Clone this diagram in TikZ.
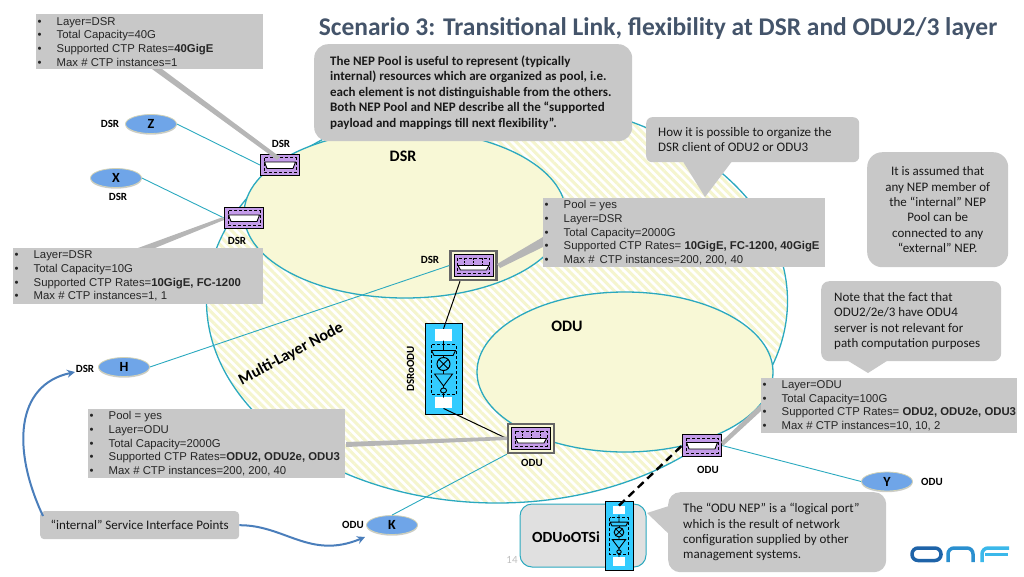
\documentclass[tikz,border=0pt]{standalone}
\usepackage{fontspec}
\setmainfont{Carlito}
\newfontfamily\arialfont{Liberation Sans}
\usetikzlibrary{shapes.geometric,patterns.meta,arrows.meta,shadows}

\definecolor{tealline}{HTML}{2BA9BF}
\definecolor{creamfill}{HTML}{F8F8D6}
\definecolor{stripefill}{HTML}{F5F5CE}
\definecolor{boxgray}{HTML}{C8C8C8}
\definecolor{wedgegray}{HTML}{B6B6B6}
\definecolor{nepviolet}{HTML}{C39BE9}
\definecolor{barcyan}{HTML}{33CCFF}
\definecolor{sipblue}{HTML}{6FA5E8}
\definecolor{arrowblue}{HTML}{4A7EBB}
\definecolor{titleslate}{HTML}{44546A}
\definecolor{onfdark}{HTML}{1E63A8}
\definecolor{onfmid}{HTML}{2A8FCF}
\definecolor{onflight}{HTML}{3BB8EA}

\tikzset{
    layerbig/.style={ellipse,inner sep=0,draw=tealline,line width=1.3pt,preaction={fill=white},
        pattern={Lines[angle=-45,distance=6pt,line width=3pt]},pattern color=stripefill},
    layerin/.style={ellipse,inner sep=0,draw=tealline,line width=1.3pt,fill=creamfill},
    sipnode/.style={ellipse,inner sep=0,minimum width=51pt,minimum height=19pt,fill=sipblue,draw=stripefill!70!gray,
        line width=.8pt,drop shadow={shadow xshift=0pt,shadow yshift=-1.2pt,opacity=.4},
        font=\fontsize{14}{16}\selectfont\bfseries},
    nepport/.style={rectangle,inner sep=0,minimum width=39pt,minimum height=21.5pt,fill=nepviolet,draw=black,line width=1pt},
    poolrim/.style={rectangle,inner sep=0,minimum width=46pt,minimum height=29pt,fill=creamfill,draw=black!60,line width=2.4pt},
    tinylabel/.style={inner sep=0,font=\fontsize{11}{13}\selectfont\bfseries},
    layerlabel/.style={inner sep=0,font=\fontsize{16}{18}\selectfont\bfseries},
    infobox/.style={rectangle,anchor=north west,inner xsep=1.5pt,inner ysep=0,fill=boxgray,align=flush left,
        font=\arialfont\fontsize{11.35}{13.7}\selectfont,text=black!85},
    note/.style={rectangle,rounded corners=11pt,anchor=north west,inner sep=0,fill=boxgray,align=flush left,
        font=\fontsize{13}{15.4}\selectfont,text=black!90},
    tealink/.style={draw=tealline,line width=.9pt},
    blacklink/.style={draw=black,line width=1pt},
    sipcurve/.style={draw=arrowblue,line width=2pt,-{Stealth[length=8pt,width=8pt]}},
    barnode/.style={rectangle,inner sep=0,fill=barcyan,draw=black,line width=1pt},
    clientsq/.style={rectangle,inner sep=0,fill=white},
}

\newcommand{\npline}[1]{\mbox{\makebox[19pt][l]{\textbullet}#1}}

% white connector inside a port
\newcommand{\nepglyph}[1]{
    \begin{scope}[shift={(#1)}]
        \draw[line width=1pt,dash pattern=on 3pt off 2pt] (-16,-7.5) rectangle (16,7.5);
        \draw[fill=white,line width=.9pt] (-15.5,-3) -- (15.5,-3) -- (13,3.5) -- (-13,3.5) -- cycle;
    \end{scope}
}
\newcommand{\poolglyph}[1]{
    \begin{scope}[shift={(#1)}]
        \draw[line width=1pt,dash pattern=on 3pt off 2pt] (-16,-7.5) rectangle (16,7.5);
        \draw[line width=.8pt,dash pattern=on 2pt off 1pt] (-9,-7.5) -- (-9,0) (0,-7.5) -- (0,0) (9,-7.5) -- (9,0);
        \draw[fill=white,line width=.9pt] (-15.5,0) -- (15.5,0) -- (13,4.5) -- (-13,4.5) -- cycle;
    \end{scope}
}
% adaptation stack inside a bar
\newcommand{\adaptglyph}[2]{
    \begin{scope}[shift={(#1)},scale=#2]
        \draw[line width=.9pt,dash pattern=on 3pt off 2pt] (-12.5,-24) rectangle (12.5,25.5);
        \draw[line width=.9pt] (0,-28) -- (0,-18) (-12,-18) -- (12,-18) -- (9.5,-13) -- (-9.5,-13) -- cycle;
        \draw[line width=.9pt] (0,-13) -- (0,-11);
        \draw[line width=1pt] (0,-4.5) circle (6.5);
        \draw[line width=.8pt] (-4.6,-9.1) -- (4.6,.1) (4.6,-9.1) -- (-4.6,.1);
        \draw[line width=.9pt] (0,2) -- (0,5.5) (-9,5.5) -- (9,5.5) -- (0,17.5) -- cycle;
        \draw[line width=.9pt] (0,22) ellipse (3 and 2.5) (0,24.5) -- (0,29) (0,17.5) -- (0,19.5);
    \end{scope}
}

\begin{document}
\begin{tikzpicture}[x=1pt,y=-1pt]
    \useasboundingbox (0,0) rectangle (1024,576);

    \node[layerbig,minimum width=581pt,minimum height=404pt] (mlnode) at (497,301) {};
    \node[layerin,minimum width=322pt,minimum height=168pt] (dsrlayer) at (405,214) {};
    \node[layerin,minimum width=296pt,minimum height=160pt] (odulayer) at (625,372) {};

    \node[inner sep=0,font=\fontsize{25.5}{28}\selectfont\bfseries,text=titleslate] (title) at (658,28.5) {Scenario 3: Transitional Link, flexibility at DSR and ODU2/3 layer};
    \node[layerlabel] (dsrname) at (403,156) {DSR};
    \node[layerlabel] (oduname) at (567,326) {ODU};
    \node[layerlabel,rotate=28] (mlname) at (291,354) {Multi-Layer Node};
    \node[inner sep=0,text=black!25,font=\fontsize{11}{13}\selectfont] (pagenum) at (512,560) {14};

    % outer endpoints
    \node[sipnode] (nepZ) at (151,124) {Z};
    \node[sipnode] (nepX) at (116,178) {X};
    \node[sipnode] (nepH) at (124,367) {H};
    \node[sipnode] (nepK) at (392,525) {K};
    \node[sipnode] (nepY) at (887,481.5) {Y};

    % ports
    \node[nepport] (portA) at (280,165) {};
    \node[nepport] (portB) at (244,218) {};
    \node[poolrim] (poolDSR) at (473.5,265.5) {};
    \node[poolrim] (poolODU) at (531,438.5) {};
    \node[nepport] (portE) at (702,445.5) {};
    \node[nepport] (poolDSRin) at (473.5,265.5) {};
    \node[nepport] (poolODUin) at (531,438.5) {};
    \nepglyph{portA}
    \nepglyph{portB}
    \nepglyph{portE}
    \poolglyph{poolDSRin}
    \poolglyph{poolODUin}

    \draw[tealink] (nepZ.east) -- (portA.west);
    \draw[tealink] (nepX.east) -- (portB.west);
    \draw[tealink] (nepH.east) -- (poolDSR.west);
    \draw[tealink] (nepK.north) -- (poolODU.south west);
    \draw[tealink] (nepY.west) -- (portE.east);

    % adaptation bars
    \node[barnode,minimum width=37pt,minimum height=91pt] (dsroodu) at (443.5,368.5) {};
    \node[clientsq,minimum width=17pt,minimum height=12pt] (dsrotop) at (443.5,335) {};
    \node[clientsq,minimum width=17pt,minimum height=11.5pt] (dsrobot) at (443.5,402.5) {};
    \adaptglyph{dsroodu}{1}
    \node[tinylabel,rotate=90] (dsrooduname) at (410.5,369) {DSRoODU};
    \draw[blacklink] ([xshift=-13.5pt]poolDSR.south) -- (dsrotop.north);
    \draw[blacklink] (dsrobot.south) -- (poolODU.west);

    \node[rectangle,rounded corners=12pt,fill=black!12,draw=tealline,line width=1pt,minimum width=126pt,minimum height=63pt,inner sep=0] (otsibox) at (583,535.5) {};
    \node[inner sep=0,font=\fontsize{15.5}{18}\selectfont\bfseries] (otsiname) at (566,537) {ODUoOTSi};
    \node[barnode,minimum width=28pt,minimum height=69pt] (oduotsi) at (619,535.5) {};
    \node[clientsq,minimum width=12pt,minimum height=8.5pt] (otsitop) at (619,510) {};
    \node[clientsq,minimum width=12pt,minimum height=9pt] (otsibot) at (619,561.5) {};
    \adaptglyph{oduotsi}{.74}
    \draw[black,line width=2.4pt,dash pattern=on 8pt off 5pt] (otsitop.north) -- (portE.west);

    % wedges from the boxes
    \fill[wedgegray] (152,69) -- (162,69) -- (280,157) -- (277,160) -- cycle;
    \fill[wedgegray] (138,248) -- (155,248) -- (224,220) -- (223,217) -- cycle;
    \fill[wedgegray] (543,237) -- (543,247) -- (500,268) -- (497,264) -- cycle;
    \fill[wedgegray] (346,442) -- (346,447) -- (507,440) -- (507,436.5) -- cycle;
    \fill[wedgegray] (761,404) -- (761,411) -- (723,446) -- (721,442) -- cycle;

    % boxes
    \node[infobox,minimum width=227pt,text width=224pt,minimum height=55pt] (boxA) at (36,14) {
        \npline{Layer=DSR}\\\npline{Total Capacity=40G}\\\npline{Supported CTP Rates=\textbf{40GigE}}\\\npline{Max \# CTP instances=1}};
    \node[infobox,minimum width=250pt,text width=247pt,minimum height=56pt] (boxB) at (13,248) {
        \npline{Layer=DSR}\\\npline{Total Capacity=10G}\\\npline{Supported CTP Rates=\textbf{10GigE, FC-1200}}\\\npline{Max \# CTP instances=1, 1}};
    \node[infobox,minimum width=282pt,text width=279pt,minimum height=69pt] (boxC) at (543,198) {
        \npline{Pool = yes}\\\npline{Layer=DSR}\\\npline{Total Capacity=2000G}\\\npline{Supported CTP Rates= \textbf{10GigE, FC-1200, 40GigE}}\\\npline{Max \#\, CTP instances=200, 200, 40}};
    \node[infobox,minimum width=257pt,text width=254pt,minimum height=69pt] (boxD) at (88,409) {
        \npline{Pool = yes}\\\npline{Layer=ODU}\\\npline{Total Capacity=2000G}\\\npline{Supported CTP Rates=\textbf{ODU2, ODU2e, ODU3}}\\\npline{Max \# CTP instances=200, 200, 40}};
    \node[infobox,minimum width=256pt,text width=253pt,minimum height=55pt] (boxE) at (761,378) {
        \npline{Layer=ODU}\\\npline{Total Capacity=100G}\\\npline{Supported CTP Rates= \textbf{ODU2, ODU2e, ODU3}}\\\npline{Max \# CTP instances=10, 10, 2}};

    % callouts
    \fill[boxgray] (682,160) -- (733,160) -- (705,197) -- cycle;
    \fill[boxgray] (845,359) -- (890,359) -- (868,373) -- cycle;
    \fill[boxgray] (672,505) -- (672,537) -- (647,513) -- cycle;
    \node[note,minimum width=318pt,minimum height=97pt,rounded corners=14pt,font=\fontsize{13}{15.5}\selectfont\bfseries,text width=286pt,inner xsep=16pt] (noteA) at (314,44) {
        The NEP Pool is useful to represent (typically\\internal) resources which are organized as pool, i.e.\\each element is not distinguishable from the others.\\Both NEP Pool and NEP describe all the “supported\\payload and mappings till next flexibility”.};
    \node[note,minimum width=213pt,minimum height=45pt,rounded corners=6pt,text width=189pt,inner xsep=12pt] (noteB) at (646,117) {
        How it is possible to organize the\\DSR client of ODU2 or ODU3};
    \node[note,minimum width=141pt,minimum height=115pt,rounded corners=15pt,align=center] (noteC) at (867,152) {
        It is assumed that\\any NEP member of\\the “internal” NEP\\Pool can be\\connected to any\\“external” NEP.};
    \node[note,minimum width=180pt,minimum height=80pt,rounded corners=8pt,text width=154pt,inner xsep=13pt] (noteD) at (821,281) {
        Note that the fact that\\ODU2/2e/3 have ODU4\\server is not relevant for\\path computation purposes};
    \node[note,minimum width=212pt,minimum height=80pt,rounded corners=12pt,text width=188pt,inner xsep=15pt] (noteE) at (668,492) {
        The “ODU NEP” is a “logical port”\\which is the result of network\\configuration supplied by other\\management systems.};
    \node[note,minimum width=199pt,minimum height=28pt,rounded corners=4pt,align=center] (sipnote) at (40,511) {“internal” Service Interface Points};

    \draw[sipcurve] ([xshift=3pt,yshift=-5pt]sipnote.north west) .. controls (12,450) and (15,385) .. (75,372);
    \draw[sipcurve] (sipnote.east) .. controls (285,525) and (310,560) .. (365,537);

    % endpoint and port labels
    \node[tinylabel] (lblZ) at (110,124) {DSR};
    \node[tinylabel] (lblX) at (118,197) {DSR};
    \node[tinylabel] (lblA) at (281,144) {DSR};
    \node[tinylabel] (lblB) at (237,241) {DSR};
    \node[tinylabel] (lblP) at (430,260) {DSR};
    \node[tinylabel] (lblH) at (85,369) {DSR};
    \node[tinylabel] (lblQ) at (532,463) {ODU};
    \node[tinylabel] (lblE) at (708,470) {ODU};
    \node[tinylabel] (lblY) at (932,482) {ODU};
    \node[tinylabel] (lblK) at (353,525) {ODU};

    % logo
    \draw[line width=3.5pt,rounded corners=6pt,draw=onfdark] (912,548) rectangle (941,560.5);
    \draw[line width=3.5pt,rounded corners=6pt,draw=onfmid] (948,562) -- (948,548) -- (973,548) -- (973,562);
    \draw[line width=3.5pt,rounded corners=6pt,draw=onflight] (982,562) -- (982,548) -- (1009,548);
    \draw[line width=2.5pt,draw=onflight] (985,554.5) -- (1008,554.5);
\end{tikzpicture}
\end{document}
